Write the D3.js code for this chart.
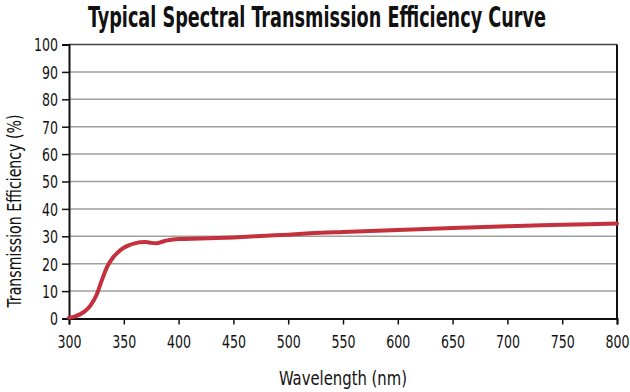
<!DOCTYPE html>
<html><head><meta charset="utf-8">
<script src="https://cdn.jsdelivr.net/npm/d3@7/dist/d3.min.js"></script>
<style>
html,body{margin:0;padding:0;background:#fff;}
svg{display:block;}
text{font-family:"DejaVu Sans Condensed","DejaVu Sans",sans-serif;fill:#111;}
</style></head>
<body><svg id="c" width="630" height="392"></svg>
<script>
const wavelength = [300,305,310,315,320,325,330,335,340,345,350,355,360,365,370,375,380,385,390,395,400,420,450,480,500,520,550,600,650,700,750,800];
const efficiency = [0.3,0.7,1.5,2.8,5,8.5,14,19,22.2,24.3,25.8,26.8,27.4,27.8,27.9,27.6,27.5,28,28.5,28.8,29,29.2,29.6,30.2,30.6,31.1,31.6,32.3,33,33.7,34.2,34.7];
const xTicks = [300,350,400,450,500,550,600,650,700,750,800];
const yTicks = [0,10,20,30,40,50,60,70,80,90,100];
const title = "Typical Spectral Transmission Efficiency Curve";
const xTitle = "Wavelength (nm)";
const yTitle = "Transmission Efficiency (%)";

const svg = d3.select("#c");
const m = {l:69, r:617, t:44.5, b:318.5};
const x = d3.scaleLinear().domain([300,800]).range([m.l, m.r]);
const y = d3.scaleLinear().domain([0,100]).range([m.b, m.t]);

// gridlines
svg.append("g").selectAll("line").data(yTicks.filter(d=>d>0)).join("line")
  .attr("x1", m.l).attr("x2", m.r).attr("y1", d=>y(d)).attr("y2", d=>y(d))
  .attr("stroke", d=> d===100 ? "#444" : "#a0a0a0").attr("stroke-width", 1.5);

// right border
svg.append("line").attr("x1", m.r).attr("x2", m.r).attr("y1", m.t).attr("y2", m.b)
  .attr("stroke", "#111").attr("stroke-width", 2);

// axes
const xAxis = svg.append("g").attr("transform", `translate(0,${m.b})`)
  .call(d3.axisBottom(x).tickValues(xTicks).tickSize(6).tickPadding(11).tickFormat(d3.format("d")));
const yAxis = svg.append("g").attr("transform", `translate(${m.l},0)`)
  .call(d3.axisLeft(y).tickValues(yTicks).tickSize(7).tickPadding(4).tickFormat(d3.format("d")));
[xAxis, yAxis].forEach(g=>{
  g.select(".domain").attr("stroke","#111").attr("stroke-width",2);
  g.selectAll(".tick line").attr("stroke","#111").attr("stroke-width",1.5);
  g.selectAll(".tick text").attr("font-size",17.5).attr("font-family",'"DejaVu Sans Condensed",sans-serif')
    .attr("fill","#111").attr("font-weight",500)
    .attr("textLength", d=>String(d).length*8).attr("lengthAdjust","spacingAndGlyphs");
});
yAxis.selectAll(".tick text").attr("dy","0.36em");

// curve
const pts = wavelength.map((w,i)=>[w, efficiency[i]]);
svg.append("path").datum(pts)
  .attr("fill","none").attr("stroke","#c4303c").attr("stroke-width",4).attr("stroke-linecap","round")
  .attr("d", d3.line().x(d=>x(d[0])).y(d=>y(d[1])).curve(d3.curveMonotoneX));

// titles
svg.append("text").attr("x", 317).attr("y", 27).attr("text-anchor","middle")
  .attr("font-size", 29).attr("font-weight","bold")
  .attr("textLength", 458).attr("lengthAdjust","spacingAndGlyphs").text(title);
svg.append("text").attr("x", 343).attr("y", 385).attr("text-anchor","middle")
  .attr("font-size", 20).attr("textLength",128).attr("lengthAdjust","spacingAndGlyphs").text(xTitle);
svg.append("text").attr("transform","translate(21,211) rotate(-90)").attr("text-anchor","middle")
  .attr("font-size", 20).attr("textLength",193).attr("lengthAdjust","spacingAndGlyphs").text(yTitle);
</script></body></html>
